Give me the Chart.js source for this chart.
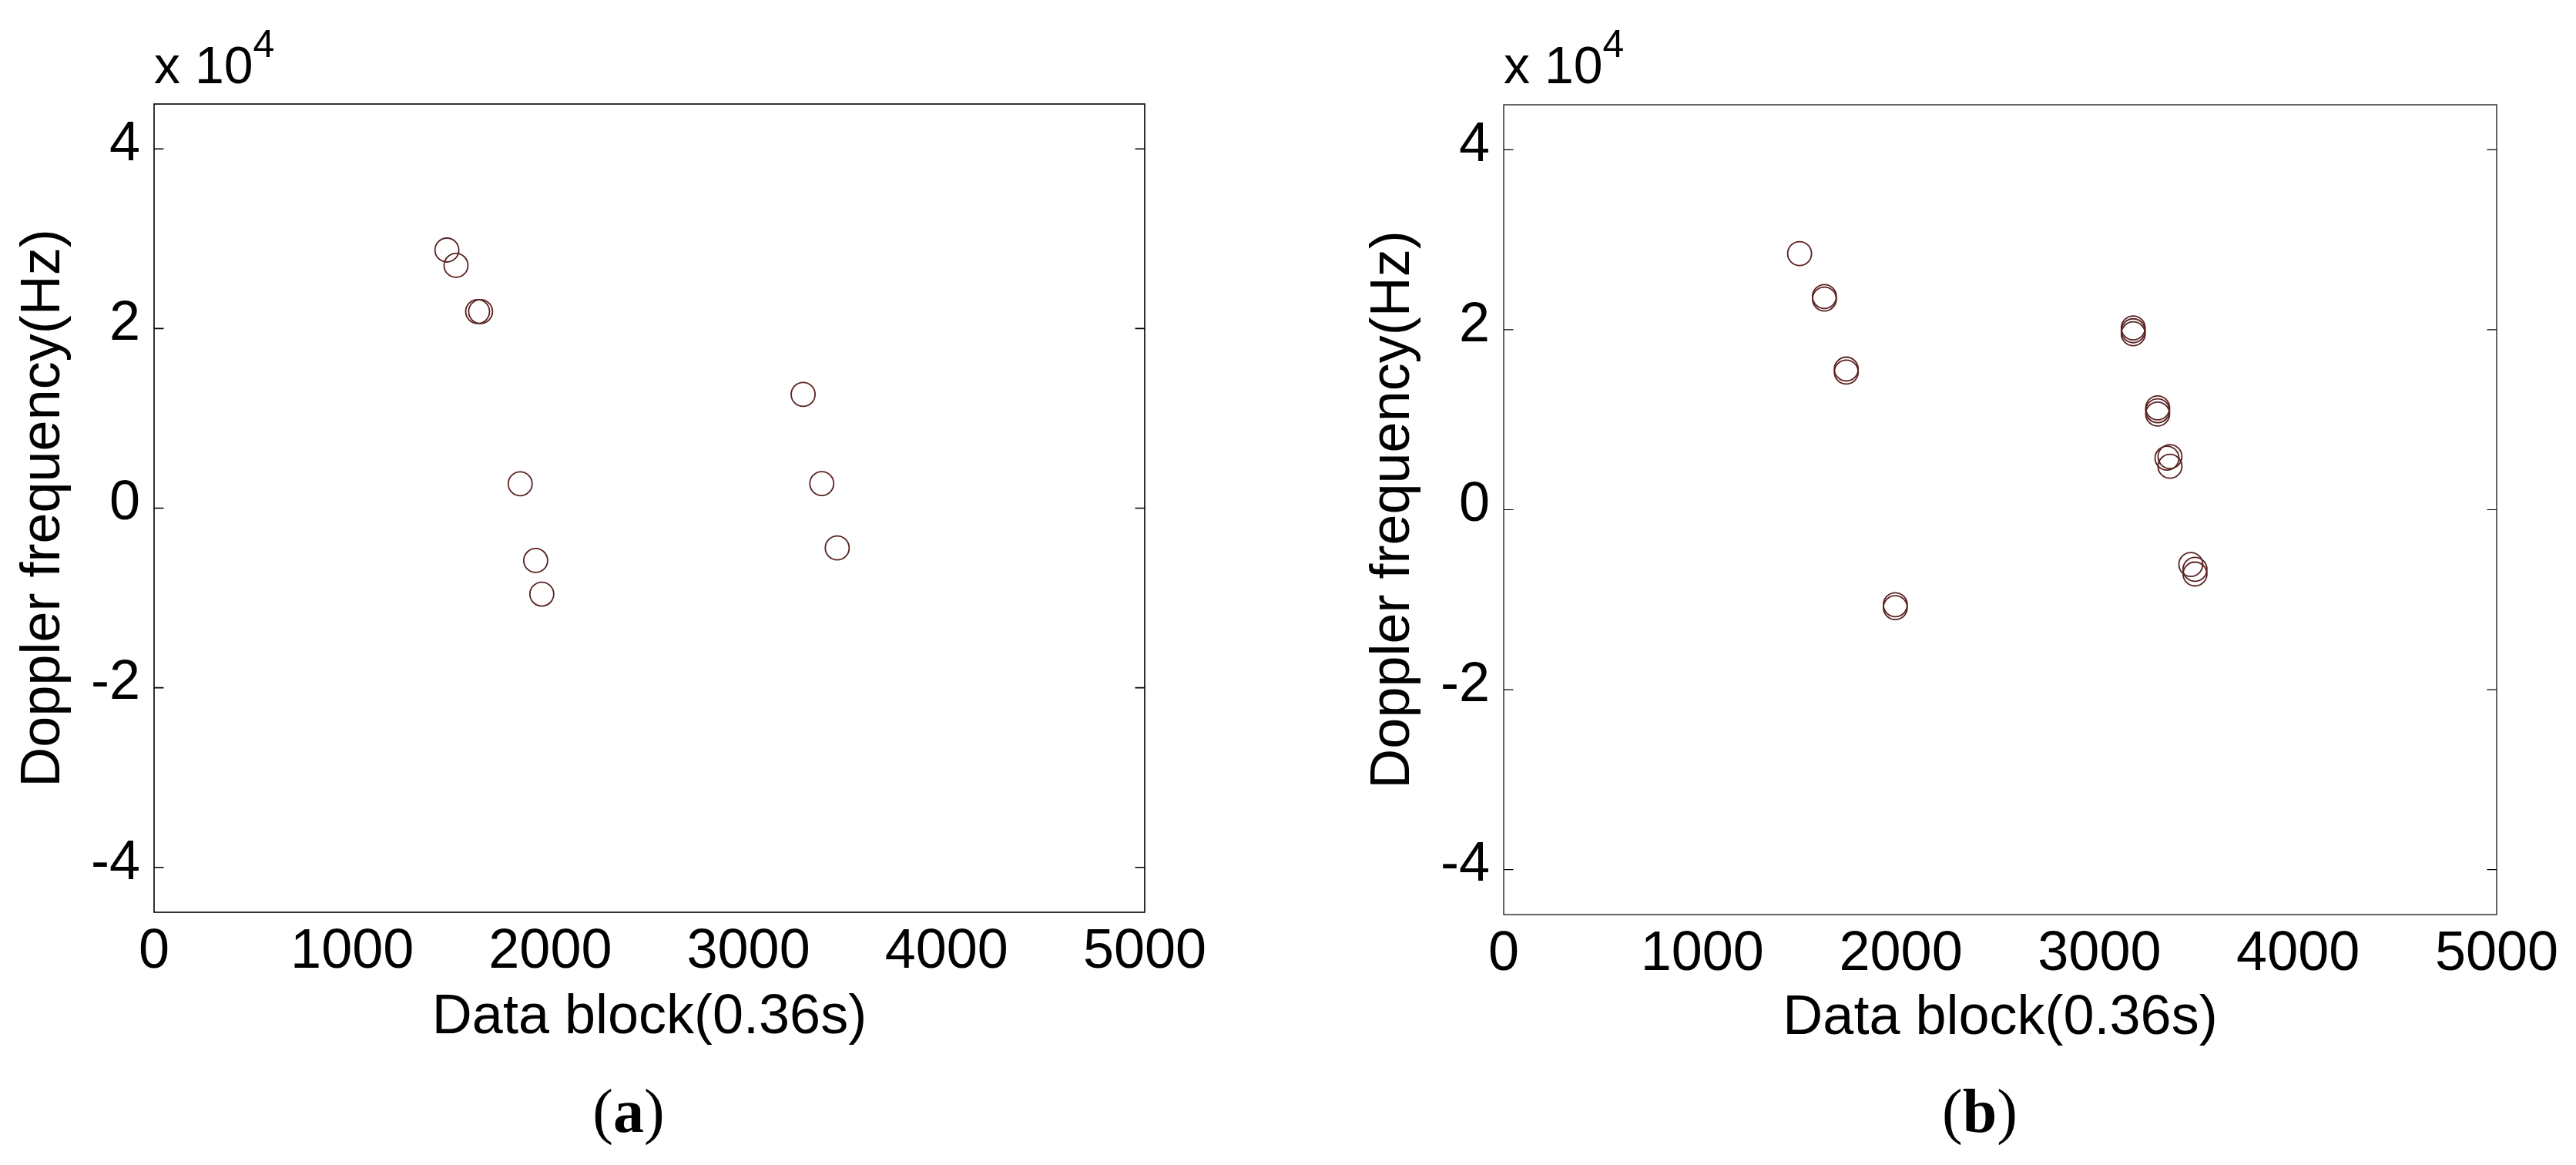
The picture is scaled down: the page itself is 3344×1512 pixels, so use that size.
<!DOCTYPE html>
<html>
<head>
<meta charset="utf-8">
<script src="https://cdn.jsdelivr.net/npm/chart.js@4/dist/chart.umd.min.js"></script>
<style>
  html, body { margin: 0; padding: 0; background: #ffffff; }
  body { width: 3344px; height: 1512px; position: relative; overflow: hidden; }
  canvas { position: absolute; top: 0; }
  .expo { position: absolute; font-family: "Liberation Sans", Arial, sans-serif; font-size: 68px; line-height: 68px; color: #000; white-space: nowrap; }
  .expo span { font-size: 50px; position: relative; top: -34px; }
  .cap { position: absolute; font-family: "Liberation Serif", "Times New Roman", serif; font-size: 80px; line-height: 80px; color: #000; white-space: nowrap; transform: translateX(-50%); }
</style>
</head>
<body>
<canvas id="ca" width="1672" height="1512" style="left:0px"></canvas>
<canvas id="cb" width="1672" height="1512" style="left:1672px"></canvas>
<div class="expo" style="left:200px; top:50px;">x 10<span>4</span></div>
<div class="expo" style="left:1952px; top:50px;">x 10<span>4</span></div>
<div class="cap" style="left:816px; top:1402px;">(<b>a</b>)</div>
<div class="cap" style="left:2570px; top:1402px;">(<b>b</b>)</div>
<script>
// ---------- data ----------
const xTicks = [0, 1000, 2000, 3000, 4000, 5000];
const xTickLabels = ['0', '1000', '2000', '3000', '4000', '5000'];
const yTicks = [-40000, -20000, 0, 20000, 40000];
const yTickLabels = ['-4', '-2', '0', '2', '4'];

// panel (a)
const blockA = [1478, 1524, 1633, 1648, 1848, 1926, 1957, 3276, 3370, 3448];
const freqA  = [28740, 27030, 21890, 21890, 2710, -5830, -9570, 12660, 2740, -4430];

// panel (b)
const blockB = [1490, 1615, 1615, 1725, 1725, 1972, 1972, 3170, 3170, 3170, 3293, 3293, 3293, 3340, 3355, 3355, 3460, 3481, 3481];
const freqB  = [28460, 23690, 23410, 15630, 15290, -10560, -10880, 20200, 19890, 19550, 11320, 11000, 10630, 5730, 5900, 4820, -6090, -6630, -7150];

const xTitle = 'Data block(0.36s)';
const yTitle = 'Doppler frequency(Hz)';

// ---------- chart ----------
const FONT = '"Liberation Sans", Arial, sans-serif';
const MARK = '#5a2222';

const framePlugin = {
  id: 'frame',
  afterDatasetsDraw(chart, args, opts) {
    const ctx = chart.ctx;
    const a = chart.chartArea;
    const ys = chart.scales.y;
    ctx.save();
    ctx.strokeStyle = '#000';
    ctx.lineWidth = opts.lw;
    ctx.strokeRect(a.left, a.top, a.right - a.left, a.bottom - a.top);
    ctx.beginPath();
    ys.ticks.forEach(t => {
      const p = ys.getPixelForValue(t.value);
      ctx.moveTo(a.left, p); ctx.lineTo(a.left + 12.5, p);
      ctx.moveTo(a.right, p); ctx.lineTo(a.right - 12.5, p);
    });
    ctx.stroke();
    ctx.restore();
  }
};

function makeChart(id, xs, ys, geo) {
  return new Chart(document.getElementById(id), {
    type: 'scatter',
    data: {
      datasets: [{
        data: xs.map((x, i) => ({ x: x, y: ys[i] })),
        pointStyle: 'circle',
        pointRadius: 15.5,
        pointHoverRadius: 15.5,
        pointBorderWidth: 1.8,
        pointBorderColor: MARK,
        pointBackgroundColor: 'rgba(0,0,0,0)',
        showLine: false
      }]
    },
    options: {
      responsive: false,
      animation: false,
      devicePixelRatio: 1,
      events: [],
      layout: { padding: { left: geo.padL, right: geo.padR, top: geo.padT, bottom: geo.padB } },
      plugins: {
        legend: { display: false },
        tooltip: { enabled: false },
        frame: { lw: geo.lw }
      },
      scales: {
        x: {
          type: 'linear', position: 'bottom', min: 0, max: 5000,
          afterBuildTicks: s => { s.ticks = xTicks.map(v => ({ value: v })); },
          afterFit: s => { s.height = geo.xH; },
          grid: { display: false, drawTicks: false },
          border: { display: false },
          ticks: {
            color: '#000', font: { family: FONT, size: 72 }, padding: 9,
            maxRotation: 0, minRotation: 0, autoSkip: false,
            callback: (v) => xTickLabels[xTicks.indexOf(v)]
          },
          title: { display: true, text: xTitle, color: '#000', font: { family: FONT, size: 72 }, padding: 0 }
        },
        y: {
          type: 'linear', position: 'left', min: -45000, max: 45000,
          afterBuildTicks: s => { s.ticks = yTicks.map(v => ({ value: v })); },
          afterFit: s => { s.width = 186; },
          grid: { display: false, drawTicks: false },
          border: { display: false },
          ticks: {
            color: '#000', font: { family: FONT, size: 72 }, padding: 18, labelOffset: -5,
            autoSkip: false,
            callback: (v) => yTickLabels[yTicks.indexOf(v)]
          },
          title: { display: true, text: yTitle, color: '#000', font: { family: FONT, size: 72 }, padding: 0 }
        }
      }
    },
    plugins: [framePlugin]
  });
}

makeChart('ca', blockA, freqA, { padL: 14, padR: 186, padT: 135, padB: 148, xH: 180, lw: 1.6 });
makeChart('cb', blockB, freqB, { padL: 94, padR: 103, padT: 136, padB: 147, xH: 178, lw: 1.2 });
</script>
</body>
</html>
